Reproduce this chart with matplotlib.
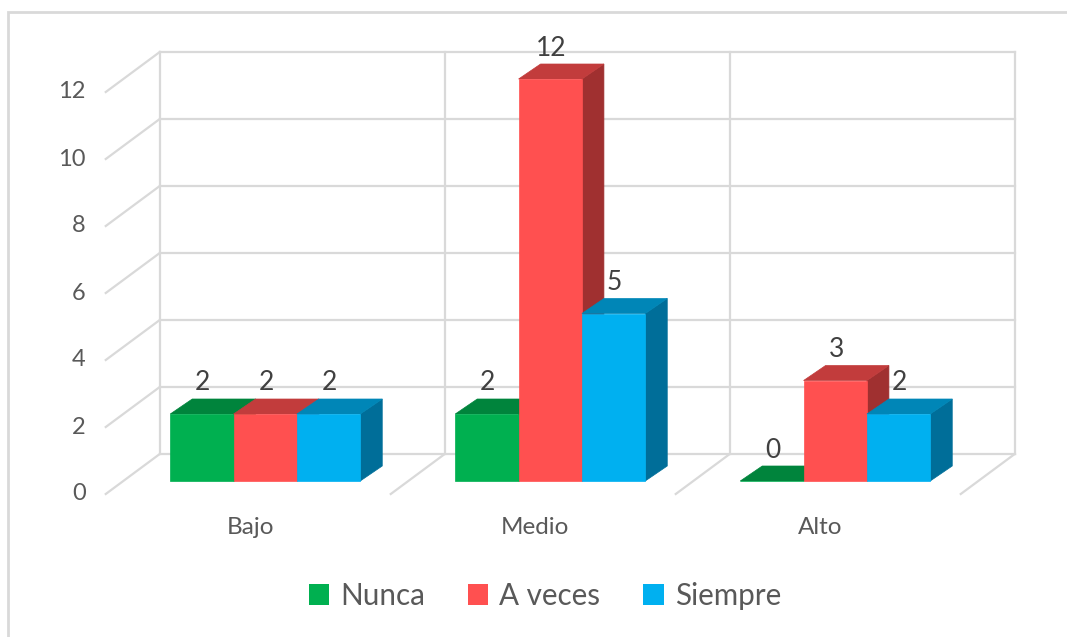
import matplotlib
matplotlib.use("Agg")
import matplotlib.pyplot as plt
from matplotlib.patches import Polygon, Rectangle

categories = ["Bajo", "Medio", "Alto"]
series_names = ["Nunca", "A veces", "Siempre"]
nunca = [2, 2, 0]
a_veces = [2, 12, 3]
siempre = [2, 5, 2]
y_ticks = [0, 2, 4, 6, 8, 10, 12]

front_colors = ["#00B050", "#FF5050", "#00B0F0"]
top_colors = ["#00843C", "#C23C3C", "#0086B7"]
side_colors = ["#006A30", "#A03030", "#006E99"]

W_PX, H_PX = 1067, 637
CAT_PX = 285.0   # pixels per category
UNIT_PX = 33.5   # pixels per value unit
X0_PX = 265.25   # pixel x of first category centre
Y0_PX = 481.0    # pixel y (from top) of value 0 on bar plane

def dxp(p):
    return p / CAT_PX

def dyp(p):
    return p / UNIT_PX

fig = plt.figure(figsize=(W_PX / 100, H_PX / 100), dpi=100)
ax = fig.add_axes([0, 0, 1, 1])
ax.set_xlim(-X0_PX / CAT_PX, (W_PX - X0_PX) / CAT_PX)
ax.set_ylim(-(H_PX - Y0_PX) / UNIT_PX, Y0_PX / UNIT_PX)
ax.axis("off")

plt.rcParams["font.family"] = ["Lato", "DejaVu Sans"]

GRID = "#D9D9D9"
GLW = 1.6
TXT = "#595959"

# outer frame (cut at right/bottom edges)
fig.patches.append(Rectangle((8 / W_PX, -0.1), 1.2, (H_PX - 12) / H_PX + 0.1,
                             transform=fig.transFigure, fill=False,
                             edgecolor=GRID, lw=2, zorder=0))

BX, BY = dxp(37), dyp(27)     # back wall offset
FX, FY = dxp(-17), dyp(-13)   # front plane offset
DX, DY = dxp(22), dyp(15)     # bar depth

n = len(categories)
xl, xr = -0.5, n - 0.5
ymax = y_ticks[-1]

# back wall gridlines
for t in y_ticks:
    ax.plot([xl + BX, xr + BX], [t + BY, t + BY], color=GRID, lw=GLW, zorder=1)
    ax.plot([xl + BX, xl + FX], [t + BY, t + FY], color=GRID, lw=GLW, zorder=1)
    ax.text(xl + FX - dxp(20), t + FY, str(t), ha="right", va="center",
            fontsize=17, color=TXT)
for k in range(n + 1):
    ax.plot([xl + k + BX, xl + k + BX], [BY, ymax + BY], color=GRID, lw=GLW, zorder=1)
    if k > 0:
        ax.plot([xl + k + BX, xl + k + FX], [BY, FY], color=GRID, lw=GLW, zorder=1)

# category labels
for i, c in enumerate(categories):
    ax.text(i + FX + dxp(2), -dyp(47), c, ha="center", va="center", fontsize=17.5, color=TXT)

# bars
data = [nunca, a_veces, siempre]
w = (2.0 / 3.0) / 3.0
z = 5
for i in range(n):
    for j, vals in enumerate(data):
        v = vals[i]
        x0 = i - 1.5 * w + j * w
        x1 = x0 + w
        # side
        ax.add_patch(Polygon([(x1, 0), (x1 + DX, DY), (x1 + DX, v + DY), (x1, v)],
                             closed=True, facecolor=side_colors[j],
                             edgecolor=side_colors[j], lw=0.5, zorder=z))
        # top
        ax.add_patch(Polygon([(x0, v), (x0 + DX, v + DY), (x1 + DX, v + DY), (x1, v)],
                             closed=True, facecolor=top_colors[j],
                             edgecolor=top_colors[j], lw=0.5, zorder=z + 1))
        # front
        ax.bar([x0], [v], width=w, align="edge", color=front_colors[j],
               edgecolor=front_colors[j], lw=0.5, zorder=z + 2)
        ax.text(x0 + w / 2 + dxp(1), v + DY + dyp(16), str(v), ha="center", va="center",
                fontsize=19, color="#404040", zorder=50)
        z += 3

# legend
handles = [Rectangle((0, 0), 1, 1, facecolor=c, edgecolor="none") for c in front_colors]
leg = fig.legend(handles, series_names, loc="center",
                 bbox_to_anchor=(545 / W_PX, 1 - 596 / H_PX), ncol=3,
                 frameon=False, fontsize=21.3, handlelength=0.68, handleheight=0.68,
                 handletextpad=0.38, columnspacing=1.45, labelcolor=TXT)

fig.savefig("out.png", dpi=100, facecolor="white")
